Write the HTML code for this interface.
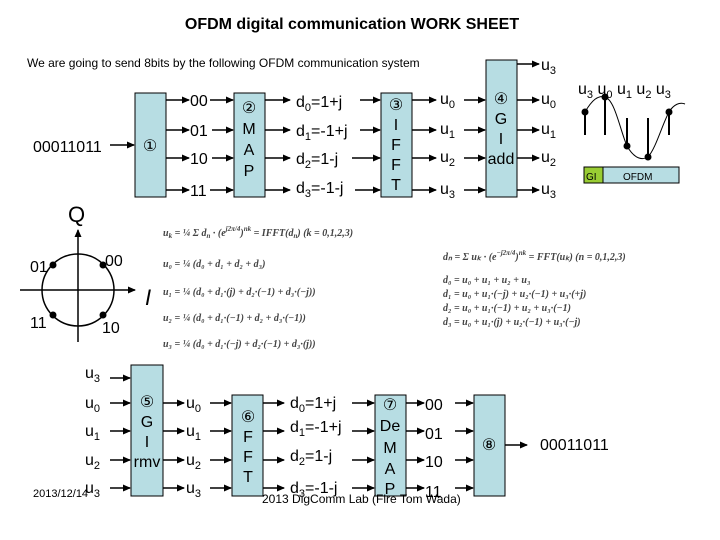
<!DOCTYPE html>
<html><head><style>body{margin:0;background:#fff}svg{display:block}</style></head><body>
<svg width="720" height="540" viewBox="0 0 720 540" xmlns="http://www.w3.org/2000/svg" font-family="Liberation Sans, sans-serif">
<defs><marker id="a" markerWidth="8" markerHeight="8" refX="7" refY="4" orient="auto" markerUnits="userSpaceOnUse"><path d="M0,0.5 L8,4 L0,7.5z" fill="#000"/></marker></defs>
<text x="352" y="29" font-size="16" font-weight="bold" text-anchor="middle">OFDM digital communication WORK SHEET</text>
<text x="27" y="67" font-size="12">We are going to send 8bits by the following OFDM communication system</text>
<g fill="#b7dde3" stroke="#000" stroke-width="1">
<rect x="135" y="93" width="31" height="104"/><rect x="234" y="93" width="31" height="104"/>
<rect x="381" y="93" width="31" height="104"/><rect x="486" y="60" width="31" height="137"/>
<rect x="131" y="365" width="32" height="131"/><rect x="232" y="395" width="31" height="101"/>
<rect x="375" y="395" width="31" height="101"/><rect x="474" y="395" width="31" height="101"/>
<rect x="603" y="167" width="76" height="16"/></g>
<rect x="584" y="167" width="19" height="16" fill="#9c3" stroke="#000"/>
<text x="586" y="180" font-size="10">GI</text><text x="623" y="180" font-size="10">OFDM</text>
<g stroke="#000" stroke-width="1.5" marker-end="url(#a)">
<line x1="110" y1="145" x2="134" y2="145"/>
<line x1="166" y1="100" x2="189" y2="100"/><line x1="166" y1="130" x2="189" y2="130"/><line x1="166" y1="158" x2="189" y2="158"/><line x1="166" y1="190" x2="189" y2="190"/>
<line x1="210" y1="100" x2="233" y2="100"/><line x1="212" y1="130" x2="233" y2="130"/><line x1="212" y1="158" x2="233" y2="158"/><line x1="210" y1="190" x2="233" y2="190"/>
<line x1="265" y1="100" x2="290" y2="100"/><line x1="265" y1="130" x2="290" y2="130"/><line x1="265" y1="158" x2="290" y2="158"/><line x1="265" y1="190" x2="290" y2="190"/>
<line x1="360" y1="100" x2="380" y2="100"/><line x1="360" y1="130" x2="380" y2="130"/><line x1="352" y1="158" x2="380" y2="158"/><line x1="355" y1="190" x2="380" y2="190"/>
<line x1="412" y1="100" x2="436" y2="100"/><line x1="412" y1="130" x2="436" y2="130"/><line x1="412" y1="158" x2="436" y2="158"/><line x1="412" y1="190" x2="436" y2="190"/>
<line x1="464" y1="100" x2="485" y2="100"/><line x1="464" y1="130" x2="485" y2="130"/><line x1="464" y1="158" x2="485" y2="158"/><line x1="464" y1="190" x2="485" y2="190"/>
<line x1="517" y1="64" x2="539" y2="64"/><line x1="517" y1="100" x2="539" y2="100"/><line x1="517" y1="130" x2="539" y2="130"/><line x1="517" y1="158" x2="539" y2="158"/><line x1="517" y1="190" x2="539" y2="190"/>
<line x1="110" y1="378" x2="130" y2="378"/><line x1="110" y1="403" x2="130" y2="403"/><line x1="110" y1="431" x2="130" y2="431"/><line x1="110" y1="460" x2="130" y2="460"/><line x1="110" y1="488" x2="130" y2="488"/>
<line x1="163" y1="403" x2="184" y2="403"/><line x1="163" y1="431" x2="184" y2="431"/><line x1="163" y1="460" x2="184" y2="460"/><line x1="163" y1="488" x2="184" y2="488"/>
<line x1="210" y1="403" x2="231" y2="403"/><line x1="210" y1="431" x2="231" y2="431"/><line x1="210" y1="460" x2="231" y2="460"/><line x1="210" y1="488" x2="231" y2="488"/>
<line x1="263" y1="403" x2="284" y2="403"/><line x1="263" y1="431" x2="284" y2="431"/><line x1="263" y1="460" x2="284" y2="460"/><line x1="263" y1="488" x2="284" y2="488"/>
<line x1="352" y1="403" x2="374" y2="403"/><line x1="352" y1="431" x2="374" y2="431"/><line x1="352" y1="460" x2="374" y2="460"/><line x1="352" y1="488" x2="374" y2="488"/>
<line x1="406" y1="403" x2="424" y2="403"/><line x1="406" y1="431" x2="424" y2="431"/><line x1="406" y1="460" x2="424" y2="460"/><line x1="406" y1="488" x2="424" y2="488"/>
<line x1="455" y1="403" x2="473" y2="403"/><line x1="455" y1="431" x2="473" y2="431"/><line x1="455" y1="460" x2="473" y2="460"/><line x1="455" y1="488" x2="473" y2="488"/>
<line x1="505" y1="445" x2="527" y2="445"/>
</g>
<g font-size="16">
<text x="33" y="152">00011011</text>
<text x="190" y="106">00</text><text x="190" y="136">01</text><text x="190" y="164">10</text><text x="190" y="196">11</text>
<text x="296" y="107">d<tspan font-size="11" dy="4">0</tspan><tspan dy="-4">=1+j</tspan></text>
<text x="296" y="136">d<tspan font-size="11" dy="4">1</tspan><tspan dy="-4">=-1+j</tspan></text>
<text x="296" y="164">d<tspan font-size="11" dy="4">2</tspan><tspan dy="-4">=1-j</tspan></text>
<text x="296" y="193">d<tspan font-size="11" dy="4">3</tspan><tspan dy="-4">=-1-j</tspan></text>
<text x="440" y="104">u<tspan font-size="11" dy="4">0</tspan></text><text x="440" y="134">u<tspan font-size="11" dy="4">1</tspan></text>
<text x="440" y="162">u<tspan font-size="11" dy="4">2</tspan></text><text x="440" y="194">u<tspan font-size="11" dy="4">3</tspan></text>
<text x="541" y="70">u<tspan font-size="11" dy="4">3</tspan></text>
<text x="541" y="104">u<tspan font-size="11" dy="4">0</tspan></text><text x="541" y="134">u<tspan font-size="11" dy="4">1</tspan></text>
<text x="541" y="162">u<tspan font-size="11" dy="4">2</tspan></text><text x="541" y="194">u<tspan font-size="11" dy="4">3</tspan></text>
<text x="578" y="94">u<tspan font-size="11" dy="4">3</tspan><tspan dy="-4"> u</tspan><tspan font-size="11" dy="4">0</tspan><tspan dy="-4"> u</tspan><tspan font-size="11" dy="4">1</tspan><tspan dy="-4"> u</tspan><tspan font-size="11" dy="4">2</tspan><tspan dy="-4"> u</tspan><tspan font-size="11" dy="4">3</tspan></text>
<g text-anchor="middle">
<text x="150" y="151">①</text>
<text x="249" y="113">②</text><text x="249" y="134">M</text><text x="249" y="155">A</text><text x="249" y="176">P</text>
<text x="396" y="110">③</text><text x="396" y="130">I</text><text x="396" y="150">F</text><text x="396" y="170">F</text><text x="396" y="190">T</text>
<text x="501" y="104">④</text><text x="501" y="124">G</text><text x="501" y="144">I</text><text x="501" y="164">add</text>
<text x="147" y="407">⑤</text><text x="147" y="427">G</text><text x="147" y="447">I</text><text x="147" y="467">rmv</text>
<text x="248" y="422">⑥</text><text x="248" y="442">F</text><text x="248" y="462">F</text><text x="248" y="482">T</text>
<text x="390" y="410">⑦</text><text x="390" y="431">De</text><text x="390" y="453">M</text><text x="390" y="474">A</text><text x="390" y="494">P</text>
<text x="489" y="450">⑧</text></g>
<text x="85" y="378">u<tspan font-size="11" dy="4">3</tspan></text>
<text x="85" y="408">u<tspan font-size="11" dy="4">0</tspan></text><text x="85" y="436">u<tspan font-size="11" dy="4">1</tspan></text>
<text x="85" y="465">u<tspan font-size="11" dy="4">2</tspan></text><text x="85" y="493">u<tspan font-size="11" dy="4">3</tspan></text>
<text x="186" y="408">u<tspan font-size="11" dy="4">0</tspan></text><text x="186" y="436">u<tspan font-size="11" dy="4">1</tspan></text>
<text x="186" y="465">u<tspan font-size="11" dy="4">2</tspan></text><text x="186" y="493">u<tspan font-size="11" dy="4">3</tspan></text>
<text x="290" y="408">d<tspan font-size="11" dy="4">0</tspan><tspan dy="-4">=1+j</tspan></text>
<text x="290" y="432">d<tspan font-size="11" dy="4">1</tspan><tspan dy="-4">=-1+j</tspan></text>
<text x="290" y="461">d<tspan font-size="11" dy="4">2</tspan><tspan dy="-4">=1-j</tspan></text>
<text x="290" y="493">d<tspan font-size="11" dy="4">3</tspan><tspan dy="-4">=-1-j</tspan></text>
<text x="425" y="410">00</text><text x="425" y="439">01</text><text x="425" y="467">10</text><text x="425" y="497">11</text>
<text x="540" y="450">00011011</text>
</g>
<text x="33" y="497" font-size="11">2013/12/14</text>
<text x="262" y="503" font-size="12">2013 DigComm Lab (Fire Tom Wada)</text>
<text x="68" y="222" font-size="22">Q</text>
<circle cx="78" cy="290" r="36" fill="none" stroke="#000" stroke-width="1.5"/>
<line x1="20" y1="290" x2="135" y2="290" stroke="#000" stroke-width="1.5" marker-end="url(#a)"/>
<line x1="78" y1="342" x2="78" y2="230" stroke="#000" stroke-width="1.5" marker-end="url(#a)"/>
<g fill="#000"><circle cx="53" cy="265" r="3.5"/><circle cx="103" cy="265" r="3.5"/><circle cx="53" cy="315" r="3.5"/><circle cx="103" cy="315" r="3.5"/></g>
<g font-size="16"><text x="30" y="272">01</text><text x="105" y="266">00</text><text x="30" y="328">11</text><text x="102" y="333">10</text></g>
<text x="145" y="305" font-size="22" font-style="italic">I</text>
<g font-family="Liberation Serif, serif" font-size="10" font-style="italic" font-weight="bold" fill="#444">
<text x="163" y="236">u<tspan font-size="7" dy="2">k</tspan><tspan dy="-2"> = ¼ Σ d</tspan><tspan font-size="7" dy="2">n</tspan><tspan dy="-2"> · (e</tspan><tspan font-size="7" dy="-5">j2π/4</tspan><tspan dy="5">)</tspan><tspan font-size="7" dy="-5">nk</tspan><tspan dy="5"> = IFFT(d</tspan><tspan font-size="7" dy="2">n</tspan><tspan dy="-2">)   (k = 0,1,2,3)</tspan></text>
<text x="163" y="267">u₀ = ¼ (d₀ + d₁ + d₂ + d₃)</text>
<text x="163" y="295">u₁ = ¼ (d₀ + d₁·(j) + d₂·(−1) + d₃·(−j))</text>
<text x="163" y="321">u₂ = ¼ (d₀ + d₁·(−1) + d₂ + d₃·(−1))</text>
<text x="163" y="347">u₃ = ¼ (d₀ + d₁·(−j) + d₂·(−1) + d₃·(j))</text>
<text x="443" y="260">dₙ = Σ uₖ · (e<tspan font-size="7" dy="-5">−j2π/4</tspan><tspan dy="5">)</tspan><tspan font-size="7" dy="-5">nk</tspan><tspan dy="5"> = FFT(uₖ)   (n = 0,1,2,3)</tspan></text>
<text x="443" y="283">d₀ = u₀ + u₁ + u₂ + u₃</text>
<text x="443" y="297">d₁ = u₀ + u₁·(−j) + u₂·(−1) + u₃·(+j)</text>
<text x="443" y="311">d₂ = u₀ + u₁·(−1) + u₂ + u₃·(−1)</text>
<text x="443" y="325">d₃ = u₀ + u₁·(j) + u₂·(−1) + u₃·(−j)</text>
</g>
<path d="M585,112 C592,100 598,95 605,97 C615,100 620,130 627,146 C635,160 643,160 648,157 C656,148 662,125 669,112 C674,104 680,102 685,104" fill="none" stroke="#000"/>
<g stroke="#000" stroke-width="2"><line x1="585" y1="112" x2="585" y2="135"/><line x1="605" y1="97" x2="605" y2="135"/><line x1="627" y1="118" x2="627" y2="146"/><line x1="648" y1="118" x2="648" y2="157"/><line x1="669" y1="112" x2="669" y2="135"/></g>
<g fill="#000"><circle cx="585" cy="112" r="3.5"/><circle cx="605" cy="97" r="3.5"/><circle cx="627" cy="146" r="3.5"/><circle cx="648" cy="157" r="3.5"/><circle cx="669" cy="112" r="3.5"/></g>
</svg>
</body></html>
